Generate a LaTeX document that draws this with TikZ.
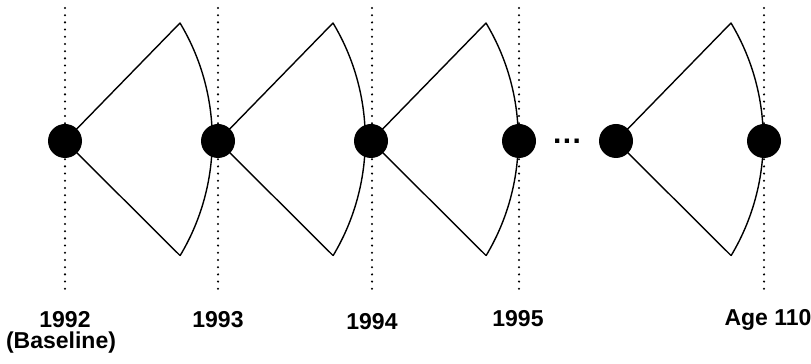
\documentclass[tikz,border=0pt]{standalone}
\usepackage{fontspec}
\setmainfont{Liberation Sans}
\begin{document}
\begin{tikzpicture}[x=1pt,y=1pt,
  wave/.style={circle,fill=black,inner sep=0pt,minimum size=34pt},
  fanline/.style={line width=1.4pt,line join=round},
  yearline/.style={line width=2.3pt,line cap=round,dash pattern=on 0pt off 7.2pt},
  yearlabel/.style={font=\fontsize{23}{26}\selectfont\bfseries,anchor=base,inner sep=0pt}]
\useasboundingbox (0,0) rectangle (811,364);

% vertical time markers
\foreach \n/\x in {a/65,b/218,c/372,d/519,e/764}{
  \coordinate (\n top) at (\x,356);
  \coordinate (\n bot) at (\x,72);
  \draw[yearline] (\n top) -- (\n bot);
}

% fans: two straight edges and an outer arc
\foreach \n/\x in {1/65,2/218,3/371,4/616}{
  \coordinate (f\n) at (\x,223);
  \coordinate (u\n) at (\x+115,341);
  \coordinate (l\n) at (\x+115,108.5);
  \draw[fanline] (l\n) -- (f\n) -- (u\n) arc[start angle=31,end angle=-31,radius=226pt];
}

% waves (survey points)
\node[wave] (w1) at (65,223) {};
\node[wave] (w2) at (218,223) {};
\node[wave] (w3) at (371,223) {};
\node[wave] (w4) at (519,223) {};
\node[wave] (w5) at (616,223) {};
\node[wave] (w6) at (764,223) {};

\node[yearlabel,font=\fontsize{30}{32}\selectfont\bfseries] (dots) at (567,220) {.\hspace{1.5pt}.\hspace{1.5pt}.};

% year labels
\node[yearlabel] (y1) at (65,36) {1992};
\node[yearlabel] (y1b) at (61,15) {(Baseline)};
\node[yearlabel] (y2) at (218,36) {1993};
\node[yearlabel] (y3) at (372,34) {1994};
\node[yearlabel] (y4) at (518,37) {1995};
\node[yearlabel] (y5) at (768,38) {Age 110};
\end{tikzpicture}
\end{document}
